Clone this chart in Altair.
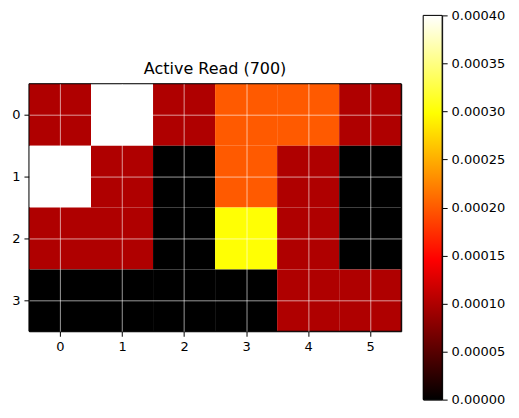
import altair as alt
import pandas as pd

rows = [0, 1, 2, 3]
cols = [0, 1, 2, 3, 4, 5]
values = [
    [0.0001, 0.0004, 0.0001, 0.0002, 0.0002, 0.0001],
    [0.0004, 0.0001, 0.0000, 0.0002, 0.0001, 0.0000],
    [0.0001, 0.0001, 0.0000, 0.0003, 0.0001, 0.0000],
    [0.0000, 0.0000, 0.0000, 0.0000, 0.0001, 0.0001],
]
title = "Active Read (700)"
cbar_min, cbar_max = 0.0, 0.0004
cbar_ticks = [0.0, 0.00005, 0.0001, 0.00015, 0.0002, 0.00025, 0.0003, 0.00035, 0.0004]

records = [
    {"row": r, "col": c, "v": values[r][c]} for r in rows for c in cols
]
df = pd.DataFrame(records)

# matplotlib "hot" colormap as piecewise-linear stops
hot_domain = [cbar_min, cbar_min + 0.365 * (cbar_max - cbar_min),
              cbar_min + 0.746 * (cbar_max - cbar_min), cbar_max]
hot_range = ["#000000", "#ff0000", "#ffff00", "#ffffff"]

FONT = "DejaVu Sans"
frame = alt.ViewBackground(stroke="black", strokeWidth=1, fill=None)

x_dom = [min(cols) - 0.5, max(cols) + 0.5]
y_dom = [min(rows) - 0.5, max(rows) + 0.5]

xscale = alt.Scale(domain=x_dom, nice=False, zero=False)
yscale = alt.Scale(domain=y_dom, nice=False, zero=False, reverse=True)

axis_kw = dict(title=None, format="d", grid=True, gridColor="white",
               gridOpacity=0.75, gridWidth=0.8, zindex=1, domain=False,
               tickColor="black", labelFontSize=13, labelColor="black",
               labelFont=FONT, tickSize=5, labelPadding=4)

cells = alt.Chart(df).transform_calculate(
    x0="datum.col - 0.5", x1="datum.col + 0.5",
    y0="datum.row - 0.5", y1="datum.row + 0.5",
).mark_rect().encode(
    x=alt.X("x0:Q", scale=xscale, axis=alt.Axis(values=cols, **axis_kw)),
    x2="x1:Q",
    y=alt.Y("y0:Q", scale=yscale, axis=alt.Axis(values=rows, **axis_kw)),
    y2="y1:Q",
    color=alt.Color("v:Q", scale=alt.Scale(domain=hot_domain, range=hot_range,
                                           interpolate="rgb", clamp=True),
                    legend=None),
)

border_df = pd.DataFrame({"x0": [x_dom[0]], "x1": [x_dom[1]],
                          "y0": [y_dom[0]], "y1": [y_dom[1]]})
border = alt.Chart(border_df).mark_rect(
    fill=None, stroke="black", strokeWidth=1
).encode(
    x=alt.X("x0:Q", scale=xscale), x2="x1:Q",
    y=alt.Y("y0:Q", scale=yscale), y2="y1:Q",
)

heat = alt.layer(cells, border).properties(
    width=373, height=248, view=frame,
    title=alt.TitleParams(title, fontSize=16, font=FONT, fontWeight="normal",
                          color="black", offset=6),
)

cbar_df = pd.DataFrame({"lo": [cbar_min], "hi": [cbar_max]})
cbar = alt.Chart(cbar_df).mark_rect(
    color=alt.Gradient(
        gradient="linear",
        stops=[
            alt.GradientStop(color="#000000", offset=0),
            alt.GradientStop(color="#ff0000", offset=0.365),
            alt.GradientStop(color="#ffff00", offset=0.746),
            alt.GradientStop(color="#ffffff", offset=1),
        ],
        x1=0, x2=0, y1=1, y2=0,
    ),
    stroke="black", strokeWidth=1,
).encode(
    y=alt.Y("lo:Q", scale=alt.Scale(domain=[cbar_min, cbar_max], nice=False),
            axis=alt.Axis(orient="right", values=cbar_ticks, format=".5f", title=None,
                          grid=False, domain=False, tickColor="black", tickSize=5,
                          labelFontSize=13, labelColor="black", labelFont=FONT,
                          labelPadding=4)),
    y2="hi:Q",
    x=alt.value(0),
    x2=alt.value(19),
).properties(width=19, height=385, view=frame)

chart = alt.hconcat(
    heat, cbar, spacing=22, bounds="flush", center=True,
    padding={"left": 3, "top": 0, "right": 5, "bottom": 5},
).configure(background="white")

chart.save("out.html", embed_options={"renderer": "svg", "actions": False})
